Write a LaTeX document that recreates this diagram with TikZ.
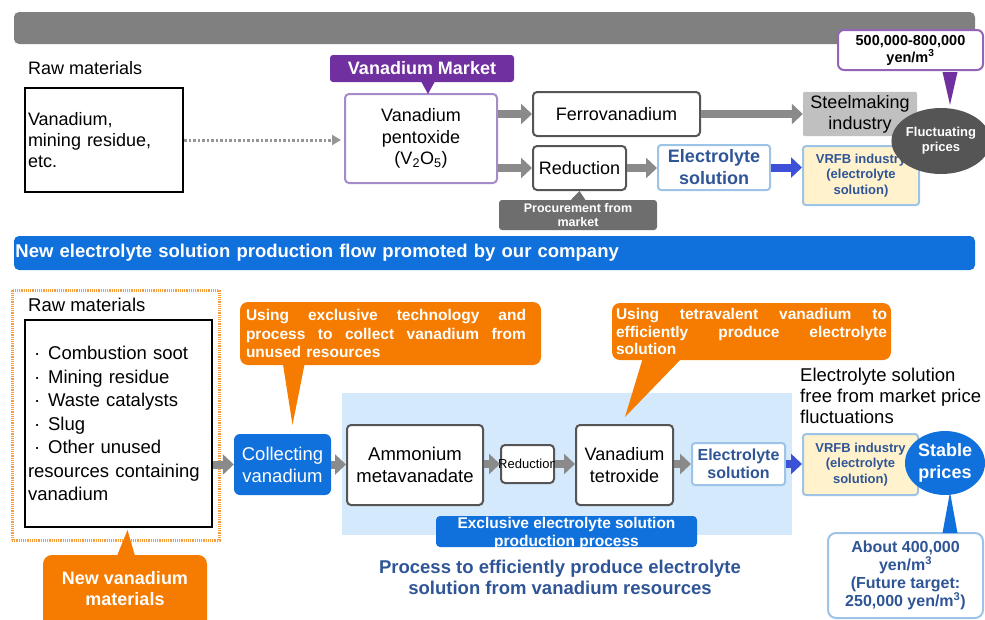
\documentclass[tikz,border=0pt]{standalone}
\usepackage{fontspec}
\setmainfont{Liberation Sans}
\usetikzlibrary{arrows.meta,shapes.geometric,calc}
\definecolor{bannergray}{HTML}{808080}
\definecolor{vpurple}{HTML}{7030A0}
\definecolor{lpurple}{HTML}{A68BCB}
\definecolor{boxgray}{HTML}{555555}
\definecolor{arrgray}{HTML}{8A8A8A}
\definecolor{steelgray}{HTML}{C0C0C0}
\definecolor{lblue}{HTML}{9DC3E6}
\definecolor{tblue}{HTML}{2F5597}
\definecolor{arrblue}{HTML}{3C50D8}
\definecolor{lyellow}{HTML}{FFF2CC}
\definecolor{dgray}{HTML}{555555}
\definecolor{procgray}{HTML}{6E6E6E}
\definecolor{bblue}{HTML}{1070DC}
\definecolor{vorange}{HTML}{F57C00}
\definecolor{regblue}{HTML}{D4E9FB}
\newcommand\fsz[2]{\fontsize{#1pt}{#2pt}\selectfont}
\newcommand\jline[2]{\leavevmode\hbox to #1{#2}}
\begin{document}
\begin{tikzpicture}[x=1pt,y=-1pt,
  plainbox/.style={draw=black, line width=2pt, fill=white, inner sep=3pt},
  rbox/.style={draw=boxgray, line width=2pt, fill=white, rounded corners=4pt, align=center},
  bluebox/.style={draw=lblue, line width=2pt, fill=white, rounded corners=3pt, align=center, text=tblue},
  vrfbbox/.style={draw=lblue, line width=2pt, fill=lyellow, rounded corners=3pt, align=center, text=tblue, font=\bfseries\fsz{13}{15.5}},
  garrow/.style={draw=arrgray, line width=8pt, -{Triangle[length=11pt,width=20pt]}},
  barrow/.style={draw=arrblue, line width=8pt, -{Triangle[length=11pt,width=20pt]}},
  dotarrow/.style={draw=arrgray!90, line width=3pt, dash pattern=on 2.5pt off 2pt, -{Triangle[length=9pt,width=10pt]}, shorten >=3pt},
  lbl/.style={anchor=west, inner sep=3pt, align=left}
]
\useasboundingbox (0,0) rectangle (985,619);

% ---------- top section ----------
\node[fill=bannergray, rounded corners=5pt, minimum width=961pt, minimum height=32pt] (topbar) at (494.5,28) {};

\node[lbl, font=\fsz{18}{21}] (rawlbl) at (25,68) {Raw materials};
\node[plainbox, minimum width=158pt, minimum height=104pt, text width=152pt, align=left, font=\fsz{18}{21}] (rawA) at (104,140) {Vanadium,\\mining residue,\\etc.};

\node[rbox, draw=lpurple, minimum width=152pt, minimum height=89pt, font=\fsz{18}{21.5}] (pent) at (421,138.5) {Vanadium\\pentoxide\\(V\textsubscript{2}O\textsubscript{5})};
\node[fill=vpurple, rounded corners=3pt, text=white, font=\bfseries\fsz{18}{21}, minimum width=184pt, minimum height=27pt, inner sep=0pt] (vmkt) at (422,68.5) {Vanadium Market};
\fill[vpurple] ($(vmkt.south)+(-1,-1)$) -- ($(vmkt.south)+(13,-1)$) -- ($(pent.north)+(7,1)$) -- cycle;

\draw[dotarrow] (rawA.east) -- (pent.west |- rawA.east);

\node[rbox, minimum width=167pt, minimum height=44pt, font=\fsz{18}{21}] (ferro) at (616.5,114) {Ferrovanadium};
\node[rbox, minimum width=93pt, minimum height=44pt, font=\fsz{18}{21}] (red) at (579.5,168) {Reduction};
\node[fill=steelgray, rounded corners=2pt, minimum width=114pt, minimum height=42pt, align=center, font=\fsz{18}{21}] (steel) at (860,114) {Steelmaking\\industry};
\node[bluebox, minimum width=112pt, minimum height=45pt, font=\bfseries\fsz{18}{22}] (elec) at (714,167.5) {Electrolyte\\solution};
\node[vrfbbox, minimum width=116pt, minimum height=59pt] (vrfb) at (861,175.5) {VRFB industry\\(electrolyte\\solution)};

\draw[garrow] (pent.east |- ferro.west) -- (ferro.west);
\draw[garrow] (pent.east |- red.west) -- (red.west);
\draw[garrow] (ferro.east) -- (steel.west);
\draw[garrow] (red.east) -- (elec.west |- red.east);
\draw[barrow] (elec.east) -- (vrfb.west |- elec.east);

\node[ellipse, fill=dgray, minimum width=80pt, minimum height=66pt, inner sep=0pt, align=center, text=white, font=\bfseries\fsz{13}{15}] (fluct) at (941,141) {Fluctuating\\prices};

\node[draw=vpurple!75, line width=2pt, fill=white, rounded corners=6pt, minimum width=145pt, minimum height=40pt, align=center, inner sep=0pt, font=\bfseries\fsz{14.5}{17}] (price1) at (910.5,50) {500,000-800,000\\yen/m\textsuperscript{3}};
\fill[vpurple] ($(price1.south)+(32,1)$) -- ($(price1.south)+(47,1)$) -- ($(fluct.north)+(9,-3)$) -- cycle;

\node[fill=procgray, rounded corners=3pt, minimum width=158pt, minimum height=30pt, align=center, inner sep=0pt, text=white, font=\bfseries\fsz{12.5}{14}] (proc) at (578,215) {Procurement from\\market};
\fill[procgray] ($(proc.north)+(-8,1)$) -- ($(proc.north)+(8,1)$) -- (red.south) -- cycle;

% ---------- banner ----------
\node[fill=bblue, rounded corners=5pt, minimum width=961pt, minimum height=34pt, text width=958pt, inner xsep=1.5pt, align=left, text=white, font=\bfseries\fsz{18.5}{21}] (banner) at (494.5,253) {New electrolyte solution production flow promoted by our company};

% ---------- bottom section ----------
\node[fill=regblue, minimum width=450pt, minimum height=142pt, inner sep=0pt] (region) at (567,464) {};

\node[draw=vorange!75, dash pattern=on 1.2pt off 1pt, line width=3pt, minimum width=207pt, minimum height=250pt] (frame) at (115.5,415) {};
\node[lbl, font=\fsz{18.5}{21}] (rawlbl2) at (25,305) {Raw materials};
\node[plainbox, minimum width=187pt, minimum height=207pt, text width=181pt, align=left, font=\fsz{18.5}{23.5}] (raw2) at (118.5,423.5) {\hspace*{6pt}·\hspace{8pt}Combustion soot\\\hspace*{6pt}·\hspace{8pt}Mining residue\\\hspace*{6pt}·\hspace{8pt}Waste catalysts\\\hspace*{6pt}·\hspace{8pt}Slug\\\hspace*{6pt}·\hspace{8pt}Other unused\\resources containing\\vanadium\\[5pt]};

\node[fill=vorange, rounded corners=9pt, minimum width=164pt, minimum height=84pt] (newvanbox) at (125,597) {};
\fill[vorange] ($(newvanbox.north)+(-8,1)$) -- ($(newvanbox.north)+(10,1)$) -- ($(raw2.south)+(9,2)$) -- cycle;
\node[align=center, text=white, font=\bfseries\fsz{18}{21}] (newvan) at (125,588.5) {New vanadium\\materials};

\node[fill=vorange, rounded corners=8pt, minimum width=301pt, minimum height=63pt, text width=289pt, inner xsep=6pt, align=left, text=white, font=\bfseries\fsz{15.5}{18.5}] (cl1) at (390.5,333.5) {\jline{280pt}{Using\hfill exclusive\hfill technology\hfill and}\\\jline{280pt}{process\hfill to\hfill collect\hfill vanadium\hfill from}\\unused resources};

\node[fill=vorange, rounded corners=8pt, minimum width=279pt, minimum height=57pt, text width=271pt, inner xsep=4pt, align=left, text=white, font=\bfseries\fsz{15.5}{17.5}] (cl2) at (751.5,331.5) {\jline{271pt}{Using\hfill tetravalent\hfill vanadium\hfill to}\\\jline{271pt}{efficiently\hfill produce\hfill electrolyte}\\solution};

\node[fill=bblue, rounded corners=6pt, minimum width=97pt, minimum height=61pt, align=center, inner sep=0pt, text=white, font=\fsz{18.5}{22}] (coll) at (282.5,464.5) {Collecting\\vanadium};
\fill[vorange] ($(cl1.south west)+(43,-2)$) -- ($(cl1.south west)+(65,-2)$) -- ($(coll.north)+(10,-9)$) -- cycle;

\node[rbox, minimum width=136pt, minimum height=80pt, font=\fsz{18.5}{22}] (amm) at (415,465) {Ammonium\\metavanadate};
\node[rbox, minimum width=53pt, minimum height=38pt, inner xsep=1.5pt, font=\fsz{13}{15}] (red2) at (527.5,464) {\makebox[50pt][c]{Reduction}};
\node[rbox, minimum width=97pt, minimum height=80pt, font=\fsz{18}{21.5}] (tet) at (624.5,465) {Vanadium\\tetroxide};
\fill[vorange] ($(cl2.south west)+(31,-2)$) -- ($(cl2.south west)+(70,-2)$) -- ($(tet.north)+(0.5,-7)$) -- cycle;
\node[bluebox, minimum width=93pt, minimum height=42pt, inner sep=0pt, font=\bfseries\fsz{16}{18}] (elec2) at (738.5,464) {Electrolyte\\solution};
\node[vrfbbox, minimum width=115pt, minimum height=61pt, inner sep=0pt] (vrfb2) at (860.5,464.5) {VRFB industry\\(electrolyte\\solution)};
\node[ellipse, fill=bblue, minimum width=80pt, minimum height=64pt, inner sep=0pt, align=center, text=white, font=\bfseries\fsz{18}{22}] (stable) at (945,463) {Stable\\prices};

\draw[garrow] (raw2.east |- coll.west) -- (coll.west);
\draw[garrow] (coll.east) -- (amm.west |- coll.east);
\draw[garrow] (amm.east |- red2.west) -- (red2.west);
\draw[garrow] (red2.east) -- (tet.west |- red2.east);
\draw[garrow] (tet.east |- elec2.west) -- (elec2.west);
\draw[barrow] (elec2.east) -- (vrfb2.west |- elec2.east);

\node[lbl, font=\fsz{18.5}{21}] (efree) at (797,396) {Electrolyte solution\\free from market price\\fluctuations};

\node[fill=bblue, rounded corners=4pt, minimum width=261pt, minimum height=31pt, inner sep=0pt] (excl) at (566.5,531.5) {};
\node[align=center, inner sep=0pt, text=white, font=\bfseries\fsz{15.5}{18}] (excltxt) at (566.5,533.5) {Exclusive electrolyte solution\\production process};

\node[align=center, text=tblue, font=\bfseries\fsz{18.5}{21}] (proc2) at (560,577) {Process to efficiently produce electrolyte\\solution from vanadium resources};

\node[draw=lblue, line width=2pt, fill=white, rounded corners=8pt, minimum width=155pt, minimum height=85pt, inner sep=0pt, align=center, text=tblue, font=\bfseries\fsz{16}{18}] (price2) at (905.5,575.5) {About 400,000\\yen/m\textsuperscript{3}\\(Future target:\\250,000 yen/m\textsuperscript{3})};
\fill[bblue] ($(price2.north)+(37,1)$) -- ($(price2.north)+(52,1)$) -- ($(stable.south)+(5,-3)$) -- cycle;
\end{tikzpicture}
\end{document}
